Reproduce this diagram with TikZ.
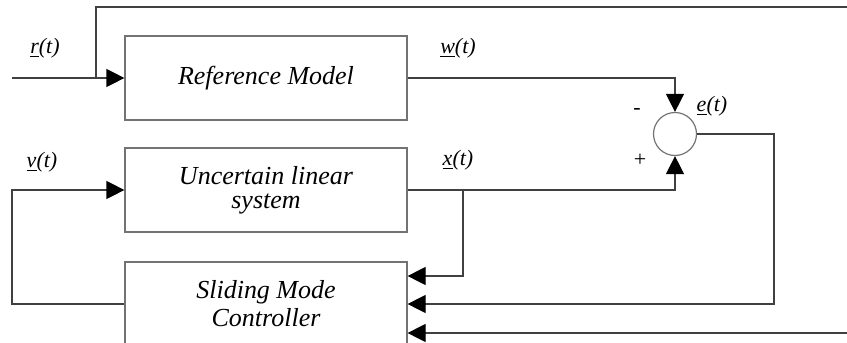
\documentclass[tikz,border=0pt]{standalone}
\usepackage{fontspec}
\setmainfont{Liberation Serif}
\usetikzlibrary{arrows.meta,positioning}

\begin{document}
\begin{tikzpicture}[x=0.5pt,y=-0.5pt,
    block/.style={draw=black!55, line width=0.6pt, minimum width=141pt, minimum height=42pt,
      inner sep=0pt, align=center, font=\fontsize{13}{14}\selectfont\itshape},
    summer/.style={draw=black!55, line width=0.6pt, circle, minimum size=21.5pt, inner sep=0pt},
    wire/.style={draw=black!75, line width=0.6pt},
    sig/.style={wire, -{Triangle[length=9pt,width=9pt,color=black]}},
    lbl/.style={font=\fontsize{11}{13}\selectfont\itshape, inner sep=0pt},
    sgn/.style={font=\fontsize{11}{13}\selectfont, inner sep=0pt}]
  \useasboundingbox (0,0) rectangle (847,343);
  \clip (0,0) rectangle (847,343);

  \node[block] (refmodel) at (266,78) {Reference Model};
  \node[block] (plant) at (266,190) {Uncertain linear\\[-2pt]system};
  \node[block] (smc) at (266,304) {Sliding Mode\\Controller};
  \node[summer] (sum) at (675,134) {};

  \coordinate (rin) at (12,78);
  \coordinate (rsplit) at (96,78);
  \coordinate (topright) at (847,7);
  \coordinate (botright) at (847,333);
  \coordinate (xsplit) at (463,190);
  \coordinate (ecorner) at (774,304);
  \coordinate (vcorner) at (12,304);

  \draw[sig] (rin) -- (refmodel.west);
  \draw[wire] (rsplit) |- (topright);
  \draw[sig] (botright) -- (botright -| smc.east);
  \draw[sig] (refmodel.east) -| (sum.north);
  \draw[sig] (plant.east) -| (sum.south);
  \draw[sig] (sum.east) -| (ecorner) -- (smc.east);
  \draw[sig] (xsplit) |- ([yshift=14pt]smc.east);
  \draw[sig] (smc.west) -- (vcorner) |- (plant.west);

  \node[lbl] (rlbl) at (45,48) {\underline{r}(t)};
  \node[lbl] (wlbl) at (458,48) {\underline{w}(t)};
  \node[lbl] (xlbl) at (458,160) {\underline{x}(t)};
  \node[lbl] (vlbl) at (42,162) {\underline{v}(t)};
  \node[lbl] (elbl) at (712,106) {\underline{e}(t)};
  \node[sgn] (minus) at (637,111) {-};
  \node[sgn] (plus) at (640,160) {+};
\end{tikzpicture}
\end{document}
